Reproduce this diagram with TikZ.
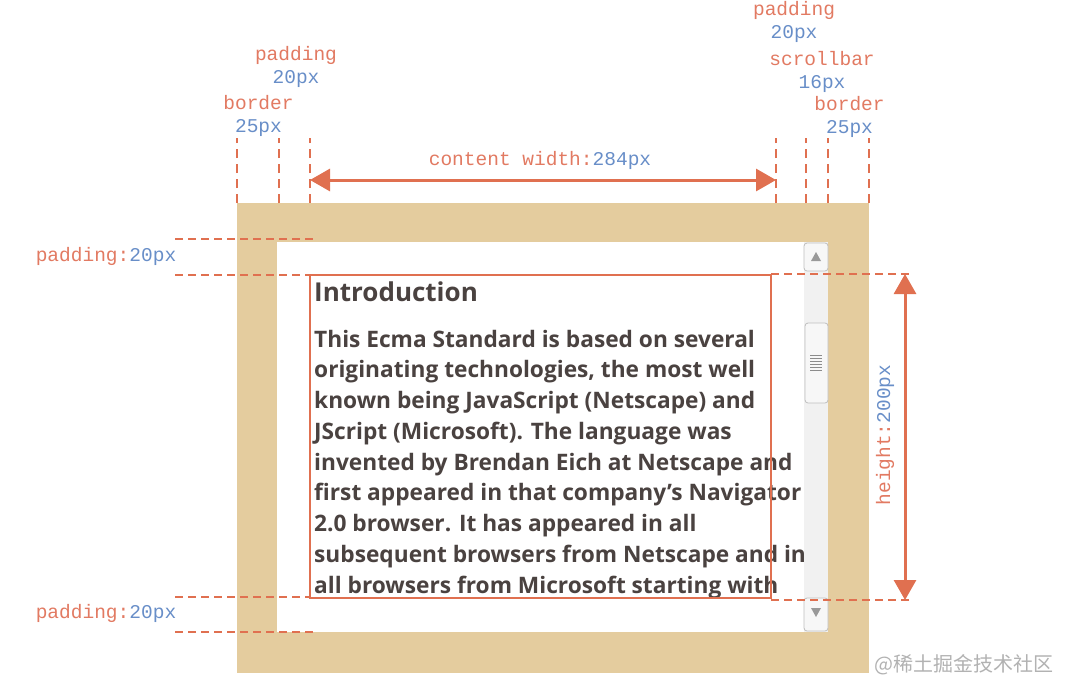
\documentclass[tikz,border=0pt]{standalone}
\usepackage{fontspec}
\setmainfont{Open Sans}
\setmonofont{Liberation Mono}
\newfontfamily\cjkfont{Noto Sans CJK SC}
\usetikzlibrary{arrows.meta}

\definecolor{bordertan}{RGB}{228,204,158}
\definecolor{guide}{RGB}{224,112,80}
\definecolor{labelred}{RGB}{226,122,98}
\definecolor{labelblue}{RGB}{104,142,200}
\definecolor{bodytext}{RGB}{74,66,64}
\definecolor{track}{RGB}{241,241,241}

\tikzset{
  guideline/.style={guide, line width=2pt, dash pattern=on 8pt off 5pt},
  measure/.style={guide, line width=3pt, {Triangle[length=20pt,width=22pt]}-{Triangle[length=20pt,width=22pt]}},
  tag/.style={font=\ttfamily\fontsize{19.5}{23}\selectfont, inner sep=0pt, align=center},
  sbbutton/.style={draw=black!25, fill=white!97!black, rounded corners=3pt, line width=0.8pt},
}
\newcommand{\lbl}[2]{\textcolor{labelred}{#1}\textcolor{labelblue}{#2}}

\begin{document}
\begin{tikzpicture}[x=1pt, y=-1pt]
      \useasboundingbox[fill=white] (0,0) rectangle (1078,690);

      % border and padding box
      \fill[bordertan] (237,203) rectangle (869,673);
      \fill[white] (277,242) rectangle (828,632);

      % scrollbar
      \fill[track] (804,242) rectangle (828,632);
      \draw[sbbutton] (804,243) rectangle (828,271);
      \fill[black!40] (811,261) -- (821,261) -- (816,252) -- cycle;
      \draw[sbbutton] (805,323) rectangle (828,403);
      \foreach \y in {355,358,...,370}
        \draw[black!45, line width=1pt] (810,\y) -- (822,\y);
      \draw[sbbutton] (804,598) rectangle (828,631);
      \fill[black!40] (811,608) -- (821,608) -- (816,617) -- cycle;

      % content (base of a multi-line node is its last line)
      \node[anchor=base west, inner sep=0pt, text=bodytext, font=\bfseries\fontsize{26}{30}\selectfont] (title) at (314,301) {Introduction};
      \node[anchor=base west, inner sep=0pt, align=left, text=bodytext, font=\bfseries\fontsize{22.7}{30.75}\selectfont] (body) at (314,593)
        {This Ecma Standard is based on several\\
         originating technologies, the most well\\
         known being JavaScript (Netscape) and\\
         JScript (Microsoft). The language was\\
         invented by Brendan Eich at Netscape and\\
         first appeared in that company’s Navigator\\
         2.0 browser. It has appeared in all\\
         subsequent browsers from Netscape and in\\
         all browsers from Microsoft starting with};
      \draw[guide, line width=2pt] (310,275) rectangle (771,598);

      % top guides
      \foreach \x/\name in {237/bl,279/pl,310/cl,776/cr,806/pr,828/sr,869/br}
        \coordinate (\name) at (\x,203);
      \foreach \name in {bl,pl,cl,cr,pr,sr,br}
        \draw[guideline, dash pattern=on 9pt off 6pt] (\name) -- ++(0,-65);
      \draw[measure] ([yshift=23pt]cl) -- ([yshift=23pt]cr);

      \node[tag] (cwidth) at (540,160) {\lbl{content width:}{284px}};
      \node[tag] (padl) at (296,67) {\lbl{padding}{}\\\lbl{}{20px}};
      \node[tag] (bordl) at (258.5,116) {\lbl{border}{}\\\lbl{}{25px}};
      \node[tag] (padr) at (794,22) {\lbl{padding}{}\\\lbl{}{20px}};
      \node[tag] (scroll) at (822,72) {\lbl{scrollbar}{}\\\lbl{}{16px}};
      \node[tag] (bordr) at (849.5,117) {\lbl{border}{}\\\lbl{}{25px}};

      % left guides
      \node[tag] (padtop) at (106,256) {\lbl{padding:}{20px}};
      \node[tag] (padbot) at (106,613) {\lbl{padding:}{20px}};
      \draw[guideline] (175,239) -- (315,239);
      \draw[guideline] (175,275) -- (310,275);
      \draw[guideline] (175,597) -- (310,597);
      \draw[guideline] (175,632) -- (315,632);

      % right guides
      \coordinate (ht) at (771,274);
      \coordinate (hb) at (771,600);
      \draw[guideline] (ht) -- ++(141,0);
      \draw[guideline] (hb) -- ++(141,0);
      \draw[measure] ([xshift=134pt]ht) -- ([xshift=134pt]hb);
      \node[tag, rotate=90] (height) at (885,435) {\lbl{height:}{200px}};

      \node[anchor=base east, inner sep=0pt, text=black!30, font=\cjkfont\fontsize{20}{24}\selectfont] (mark) at (1054,671) {@稀土掘金技术社区};
    \end{tikzpicture}
\end{document}
